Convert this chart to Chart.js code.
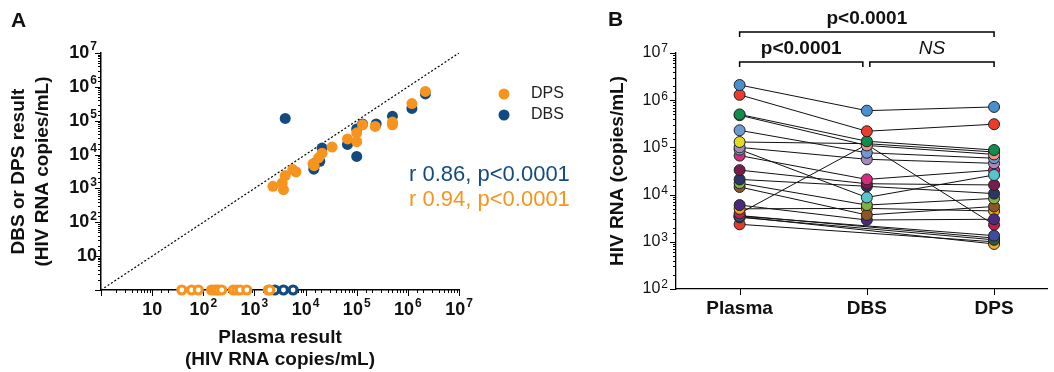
<!DOCTYPE html>
<html>
<head>
<meta charset="utf-8">
<script src="https://cdn.jsdelivr.net/npm/chart.js@4.4.1/dist/chart.umd.min.js"></script>
<style>
  html, body { margin: 0; padding: 0; background: #fff; overflow: hidden; }
  #wrap { position: relative; width: 1054px; height: 372px; }
  #chartA { position: absolute; left: 0; top: 0; }
  #chartB { position: absolute; left: 600px; top: 0; }
</style>
</head>
<body>
<div id="wrap">
  <canvas id="chartA" width="600" height="372"></canvas>
  <canvas id="chartB" width="454" height="372"></canvas>
</div>
<script>
/* ===== Panel A data: plasma vs DBS / DPS (copies/mL) ===== */
const dpsPlasma = [2300, 3700, 3500, 4000, 5600, 6500, 14000, 14700, 18000, 21000, 33000, 66000, 100000, 100000, 130000, 230000, 500000, 500000, 1200000, 2200000];
const dpsResult = [1150, 920, 1450, 2400, 3600, 3100, 5400, 4700, 8000, 11000, 16700, 29000, 44000, 24000, 76000, 68000, 91000, 76000, 320000, 730000];
const dbsPlasma = [4000, 21000, 14500, 14700, 19000, 15000, 66000, 100000, 100000, 130000, 240000, 500000, 1200000, 2200000];
const dbsResult = [117000, 15600, 3700, 4500, 6300, 5500, 20000, 8800, 57000, 80000, 80000, 135000, 230000, 620000];
// not detected in DPS / DBS -> plotted on the x axis (y = 1)
const dpsUndetPlasma = [38, 59, 80, 145, 165, 183, 200, 229, 387, 450, 525, 710, 1870, 2000];
const dbsUndetPlasma = [2500, 3700, 5700];
const identityLine = [1, 1e7];
const corrText = ['r 0.86, p<0.0001', 'r 0.94, p<0.0001'];

/* ===== Panel B data: paired samples ===== */
const categories = ['Plasma', 'DBS', 'DPS'];
const plasmaRNA = [2100000, 1300000, 500000, 480000, 230000, 130000, 100000, 90000, 67000, 33000, 21000, 17500, 14500, 6000, 5000, 4000, 3500, 3300, 3600, 3400, 2350];
const dbsRNA    = [600000, 220000, 135000, 110000, 77000, 120000, 56000, 8700, 21000, 17000, 15000, 6000, 3700, 2900, 5100, 115000, null, null, null, null, null];
const dpsRNA    = [720000, 310000, 88000, 71000, 59000, 80000, 46000, 26000, 33000, 16000, 10500, 8300, 5600, 3000, 4500, 2300, 1350, 1100, 1200, 900, 1000];
const subjectColors = ['#4a8fd0', '#ee3a2b', '#0f8d4d', '#f39082', '#6b9bd3', '#e0dc22', '#a888bc', '#55c4cf', '#d92a7d', '#7b1a4c', '#2c3568', '#80b145', '#8c5626', '#4b2a7e', '#f7a21f', '#b8204f', '#3e4b9e', '#2a5a3a', '#6b2c1c', '#f9a825', '#e53a2a'];
const comparisons = [
  { from: 0, to: 2, label: 'p<0.0001', y: 32, italic: false },
  { from: 0, to: 1, label: 'p<0.0001', y: 62, italic: false },
  { from: 1, to: 2, label: 'NS', y: 62, italic: true },
];

const ORANGE = '#f7941e';
const BLUE = '#124b82';
const FONT = "'Liberation Sans', Arial, Helvetica, sans-serif";

Chart.defaults.font.family = FONT;
Chart.defaults.color = '#111';

/* ===== helpers ===== */
function isPow10(v) {
  const e = Math.log10(v);
  return Math.abs(e - Math.round(e)) < 1e-9;
}

// major / minor tick marks (drawn under the points)
const tickMarks = {
  id: 'tickMarks',
  beforeDatasetsDraw(chart, args, opts) {
    const ctx = chart.ctx;
    ctx.save();
    ctx.strokeStyle = '#000';
    ctx.lineWidth = 1;
    ['x', 'y'].forEach(id => {
      const scale = chart.scales[id];
      const cfg = opts[id];
      if (!scale || !cfg) return;
      scale.ticks.forEach(t => {
        const len = cfg.log && !isPow10(t.value) ? cfg.minor : cfg.major;
        const p = Math.round(scale.getPixelForValue(t.value)) + 0.5;
        ctx.beginPath();
        if (scale.isHorizontal()) {
          ctx.moveTo(p, scale.top);
          ctx.lineTo(p, scale.top + len);
        } else {
          ctx.moveTo(scale.right, p);
          ctx.lineTo(scale.right - len, p);
        }
        ctx.stroke();
      });
    });
    ctx.restore();
  }
};

// "10" + raised exponent for the decade ticks of log scales
const powTicks = {
  id: 'powTicks',
  afterDraw(chart, args, opts) {
    const ctx = chart.ctx;
    ctx.save();
    ctx.fillStyle = '#111';
    ctx.textAlign = 'left';
    ctx.textBaseline = 'middle';
    ['x', 'y'].forEach(id => {
      const scale = chart.scales[id];
      const cfg = opts[id];
      if (!scale || !cfg) return;
      scale.ticks.forEach(t => {
        if (!isPow10(t.value)) return;
        const n = Math.round(Math.log10(t.value));
        if (n < 1) return;
        const sup = n > 1 ? String(n) : '';
        ctx.font = cfg.baseFont;
        const wb = ctx.measureText('10').width;
        ctx.font = cfg.supFont;
        const ws = sup ? ctx.measureText(sup).width + 1 : 0;
        const p = scale.getPixelForValue(t.value);
        let x0, y;
        if (scale.isHorizontal()) {
          x0 = p - (wb + ws) / 2;
          y = scale.top + cfg.offset;
        } else {
          x0 = scale.right - cfg.offset - wb - ws;
          y = p;
        }
        ctx.font = cfg.baseFont;
        ctx.fillText('10', x0, y);
        if (sup) {
          ctx.font = cfg.supFont;
          ctx.fillText(sup, x0 + wb + 1, y - cfg.rise);
        }
      });
    });
    ctx.restore();
  }
};

// free text: panel letter, legend, stats
const textLayer = {
  id: 'textLayer',
  afterDraw(chart, args, opts) {
    const ctx = chart.ctx;
    ctx.save();
    (opts.items || []).forEach(it => {
      if (it.dot) {
        ctx.fillStyle = it.dot;
        ctx.beginPath();
        ctx.arc(it.dotX, it.y, 5.5, 0, Math.PI * 2);
        ctx.fill();
      }
      ctx.font = it.font;
      ctx.fillStyle = it.color || '#111';
      ctx.textAlign = it.align || 'left';
      ctx.textBaseline = it.baseline || 'middle';
      ctx.fillText(it.text, it.x, it.y);
    });
    ctx.restore();
  }
};

// significance brackets for panel B
const brackets = {
  id: 'brackets',
  afterDraw(chart, args, opts) {
    const ctx = chart.ctx;
    const xs = chart.scales.x;
    ctx.save();
    ctx.strokeStyle = '#000';
    ctx.lineWidth = 1.5;
    ctx.fillStyle = '#111';
    ctx.textAlign = 'center';
    ctx.textBaseline = 'alphabetic';
    opts.items.forEach(c => {
      let x0 = xs.getPixelForValue(c.from);
      let x1 = xs.getPixelForValue(c.to);
      // leave a small gap where two brackets meet
      if (c.to - c.from === 1) {
        if (c.to === 1) x1 -= 4;
        if (c.from === 1) x0 += 3;
      }
      ctx.beginPath();
      ctx.moveTo(x0, c.y + 5);
      ctx.lineTo(x0, c.y);
      ctx.lineTo(x1, c.y);
      ctx.lineTo(x1, c.y + 5);
      ctx.stroke();
      ctx.font = c.italic ? `italic 19px ${FONT}` : `bold 19px ${FONT}`;
      ctx.fillText(c.label, (x0 + x1) / 2, c.y - 8);
    });
    ctx.restore();
  }
};

/* ===== Panel A ===== */
const toXY = (xs, ys) => xs.map((x, i) => ({ x, y: ys[i] }));
const boldTicks = { baseFont: `bold 18px ${FONT}`, supFont: `bold 12px ${FONT}`, rise: 6 };

new Chart(document.getElementById('chartA'), {
  type: 'scatter',
  data: {
    datasets: [
      { label: 'DPS', data: toXY(dpsPlasma, dpsResult), backgroundColor: ORANGE, pointRadius: 5.5, pointBorderWidth: 0, clip: false },
      { label: 'DPS nd', data: dpsUndetPlasma.map(x => ({ x, y: 1 })), backgroundColor: '#fff', borderColor: ORANGE, pointRadius: 4, pointBorderWidth: 3.2, clip: false },
      { label: 'DBS', data: toXY(dbsPlasma, dbsResult), backgroundColor: BLUE, pointRadius: 5.5, pointBorderWidth: 0, clip: false },
      { label: 'DBS nd', data: dbsUndetPlasma.map(x => ({ x, y: 1 })), backgroundColor: '#fff', borderColor: BLUE, pointRadius: 4, pointBorderWidth: 3.2, clip: false },
      { label: 'identity', type: 'line', data: identityLine.map(v => ({ x: v, y: v })), borderColor: '#000', borderWidth: 1.2, borderDash: [2, 2], pointRadius: 0, showLine: true },
    ],
  },
  options: {
    responsive: false,
    animation: false,
    events: [],
    layout: { padding: { top: 53, right: 141, left: 0, bottom: 0 } },
    scales: {
      x: {
        type: 'logarithmic', min: 1, max: 1e7,
        afterFit: s => { s.height = 82; },
        grid: { drawOnChartArea: false, drawTicks: false },
        border: { display: true, color: '#000', width: 1.5 },
        ticks: { display: false, autoSkip: false },
        title: { display: true, text: ['Plasma result', '(HIV RNA copies/mL)'], color: '#111', font: { size: 19, weight: 'bold', lineHeight: 1.16 }, padding: { top: 0, bottom: 1 } },
      },
      y: {
        type: 'logarithmic', min: 1, max: 1e7,
        afterFit: s => { s.width = 101; },
        grid: { drawOnChartArea: false, drawTicks: false },
        border: { display: true, color: '#000', width: 1.5 },
        ticks: { display: false, autoSkip: false },
        title: { display: true, text: ['DBS or DPS result', '(HIV RNA copies/mL)'], color: '#111', font: { size: 19, weight: 'bold', lineHeight: 1.25 }, padding: { top: 7, bottom: 0 } },
      },
    },
    plugins: {
      legend: { display: false },
      tooltip: { enabled: false },
      tickMarks: { x: { log: true, major: 6, minor: 3 }, y: { log: true, major: 6, minor: 3 } },
      powTicks: { x: { ...boldTicks, offset: 20 }, y: { ...boldTicks, offset: 4 } },
      textLayer: {
        items: [
          { text: 'A', x: 11, y: 27, font: `bold 21px ${FONT}`, baseline: 'alphabetic' },
          { text: 'DPS', x: 531, y: 94, dot: ORANGE, dotX: 504, font: `16px ${FONT}`, color: '#222' },
          { text: 'DBS', x: 531, y: 115, dot: BLUE, dotX: 504, font: `16px ${FONT}`, color: '#222' },
          { text: corrText[0], x: 409, y: 175, font: `22px ${FONT}`, color: BLUE },
          { text: corrText[1], x: 409, y: 200, font: `22px ${FONT}`, color: ORANGE },
        ],
      },
    },
  },
  plugins: [tickMarks, powTicks, textLayer],
});

/* ===== Panel B ===== */
const pairs = plasmaRNA.map((p, i) => [p, dbsRNA[i], dpsRNA[i]].map((y, x) => ({ x, y })));

const lineSets = pairs.map(d => ({
  data: d, order: 2, borderColor: '#111', borderWidth: 1, pointRadius: 0, spanGaps: true, clip: false,
}));
const pointSets = pairs.map((d, i) => ({
  data: d, order: 1, showLine: false, pointRadius: 5.5, pointBorderWidth: 1,
  pointBackgroundColor: subjectColors[i], pointBorderColor: '#222', clip: false,
}));

new Chart(document.getElementById('chartB'), {
  type: 'line',
  data: { datasets: [...lineSets, ...pointSets] },
  options: {
    responsive: false,
    animation: false,
    events: [],
    layout: { padding: { top: 53, right: 0, left: 0, bottom: 0 } },
    scales: {
      x: {
        type: 'linear', min: -0.5, max: 2.42,
        afterBuildTicks: s => { s.ticks = categories.map((c, i) => ({ value: i })); },
        afterFit: s => { s.height = 83; },
        grid: { drawOnChartArea: false, drawTicks: false },
        border: { display: true, color: '#000', width: 1.3 },
        ticks: { autoSkip: false, maxRotation: 0, padding: 8, color: '#111', font: { size: 19, weight: 'bold' }, callback: v => categories[v] ?? '' },
      },
      y: {
        type: 'logarithmic', min: 100, max: 1e7,
        afterFit: s => { s.width = 76; },
        grid: { drawOnChartArea: false, drawTicks: false },
        border: { display: true, color: '#000', width: 1.3 },
        ticks: { display: false, autoSkip: false },
        title: { display: true, text: 'HIV RNA (copies/mL)', color: '#111', font: { size: 19, weight: 'bold' }, padding: { top: 6.6, bottom: 0 } },
      },
    },
    plugins: {
      legend: { display: false },
      tooltip: { enabled: false },
      tickMarks: { x: { log: false, major: 6, minor: 6 }, y: { log: true, major: 6, minor: 3 } },
      powTicks: { y: { baseFont: `16px ${FONT}`, supFont: `12px ${FONT}`, rise: 4, offset: 8 } },
      brackets: { items: comparisons },
      textLayer: { items: [{ text: 'B', x: 8, y: 26, font: `bold 21px ${FONT}`, baseline: 'alphabetic' }] },
    },
  },
  plugins: [tickMarks, powTicks, brackets, textLayer],
});
</script>
</body>
</html>
